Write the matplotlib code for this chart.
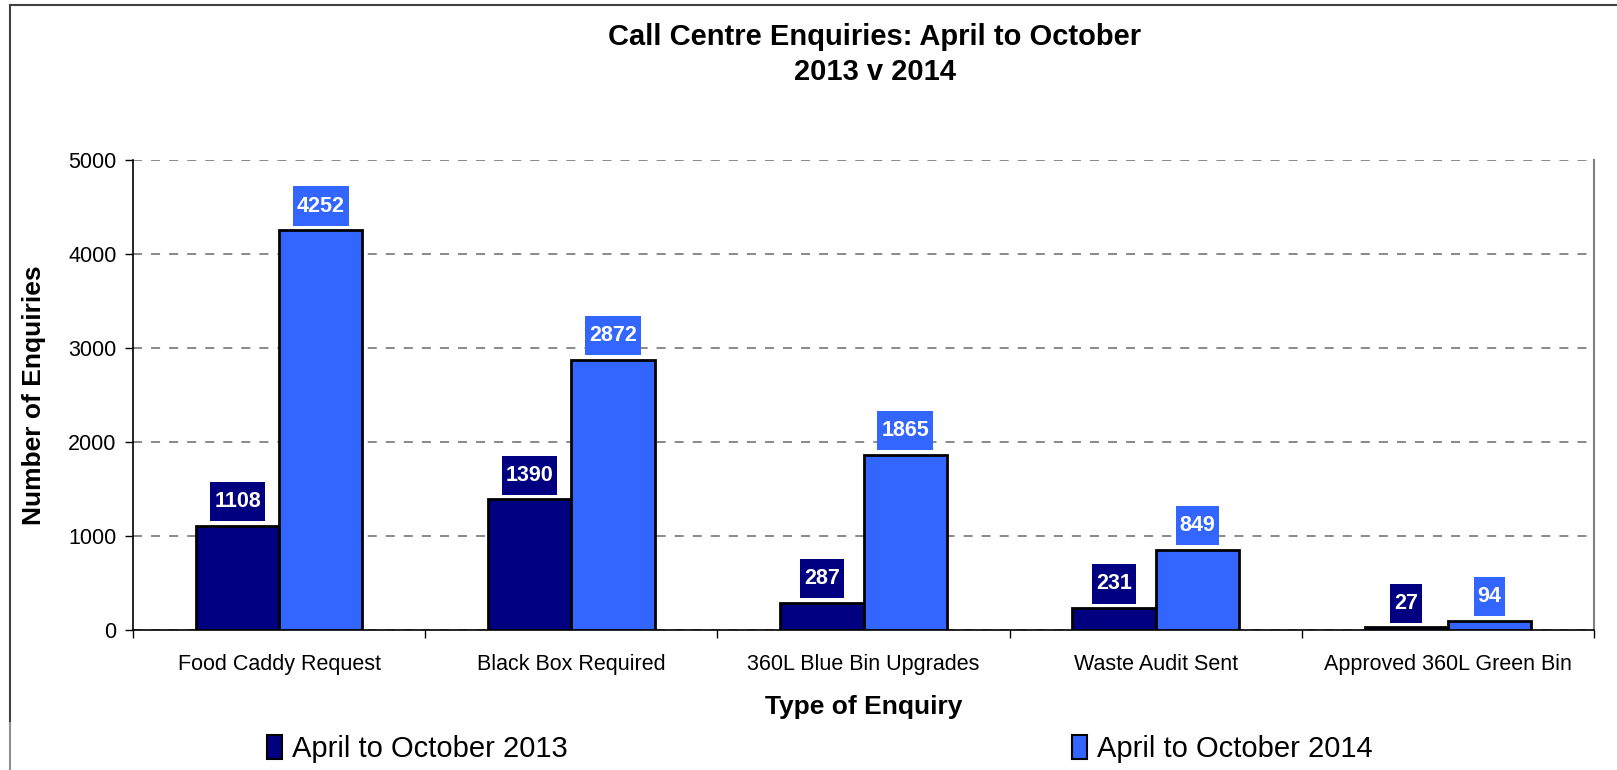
import matplotlib
matplotlib.use('Agg')
import matplotlib.pyplot as plt
import numpy as np
from matplotlib.lines import Line2D
from matplotlib.patches import Patch
from matplotlib.path import Path

# Data
categories = ['Food Caddy Request', 'Black Box Required', '360L Blue Bin Upgrades',
              'Waste Audit Sent', 'Approved 360L Green Bin']
enq_2013 = [1108, 1390, 287, 231, 27]
enq_2014 = [4252, 2872, 1865, 849, 94]
series_names = ['April to October 2013', 'April to October 2014']
yticks = [0, 1000, 2000, 3000, 4000, 5000]

col_2013 = '#000080'
col_2014 = '#3366FF'

plt.rcParams['font.family'] = ['Liberation Sans', 'DejaVu Sans']


# label box: narrow at the sides, tall top and bottom
def label_box(x0, y0, width, height, mutation_size):
    px = 0.18 * mutation_size
    py = 0.42 * mutation_size
    return Path([(x0 - px, y0 - py), (x0 + width + px, y0 - py),
                 (x0 + width + px, y0 + height + py), (x0 - px, y0 + height + py),
                 (x0 - px, y0 - py)], closed=True)


fig = plt.figure(figsize=(16.17, 7.70), dpi=100)
ax = fig.add_axes([0.0823, 0.1818, 0.9035, 0.6104])

x = np.arange(len(categories))
w = 0.285
b1 = ax.bar(x - w / 2, enq_2013, w, color=col_2013, edgecolor='black', linewidth=2, zorder=3)
b2 = ax.bar(x + w / 2, enq_2014, w, color=col_2014, edgecolor='black', linewidth=2, zorder=3)

# value labels in boxes above bars
for bars, vals, c in [(b1, enq_2013, col_2013), (b2, enq_2014, col_2014)]:
    for r, v in zip(bars, vals):
        ax.annotate(str(v), (r.get_x() + r.get_width() / 2, v), xytext=(0, 17.5),
                    textcoords='offset points', ha='center', va='center',
                    fontsize=15.5, fontweight='bold', color='white', zorder=5,
                    bbox=dict(boxstyle=label_box, fc=c, ec='none'))

ax.set_xlim(-0.5, len(categories) - 0.5)
ax.set_ylim(0, 5000)
ax.set_yticks(yticks)
ax.tick_params(axis='y', labelsize=15.5, length=6, width=1, direction='out', pad=6)

# ticks at category boundaries, labels centred
ax.set_xticks(np.arange(len(categories) + 1) - 0.5)
ax.set_xticklabels([])
ax.tick_params(axis='x', which='major', length=6, width=1, direction='out')
ax.set_xticks(x, minor=True)
ax.set_xticklabels(categories, minor=True)
ax.tick_params(axis='x', which='minor', length=0, labelsize=15.5, pad=17)

ax.yaxis.grid(True, linestyle=(0, (5, 5)), color='#808080', linewidth=1.3, zorder=0)
ax.set_axisbelow(True)
ax.spines['top'].set_visible(False)
ax.spines['right'].set_color('#808080')
ax.spines['right'].set_linewidth(1.5)
ax.spines['left'].set_linewidth(1.2)
ax.spines['bottom'].set_linewidth(1.2)

ax.set_ylabel('Number of Enquiries', fontsize=19, fontweight='bold', labelpad=16)
ax.set_xlabel('Type of Enquiry', fontsize=19, fontweight='bold', labelpad=15)

fig.text(0.541, 0.952, 'Call Centre Enquiries: April to October', ha='center', va='center',
         fontsize=21, fontweight='bold')
fig.text(0.541, 0.906, '2013 v 2014', ha='center', va='center',
         fontsize=21, fontweight='bold')

handles = [Patch(facecolor=col_2013, edgecolor='black', linewidth=1.5),
           Patch(facecolor=col_2014, edgecolor='black', linewidth=1.5)]
fig.legend(handles, series_names, loc='center left', bbox_to_anchor=(0.158, 0.027),
           ncol=2, frameon=False, fontsize=21, handlelength=0.5, handleheight=0.9,
           handletextpad=0.35, columnspacing=17.3, borderaxespad=0)

# outer chart border
fig.add_artist(Line2D([10 / 1617, 10 / 1617], [1 - 5 / 770, 1 - 723 / 770],
                      transform=fig.transFigure, color='#404040', linewidth=1.5))
fig.add_artist(Line2D([10 / 1617, 10 / 1617], [1 - 723 / 770, 0],
                      transform=fig.transFigure, color='#909090', linewidth=1.5))
fig.add_artist(Line2D([10 / 1617, 1], [1 - 5 / 770, 1 - 5 / 770],
                      transform=fig.transFigure, color='#404040', linewidth=1.5))

fig.savefig('out.png', dpi=100)
